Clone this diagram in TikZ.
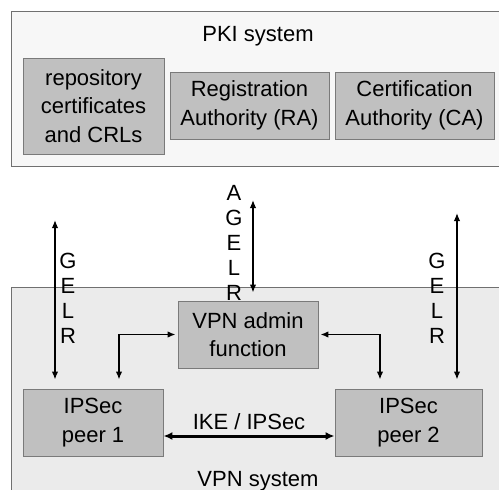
\documentclass[tikz,border=0pt]{standalone}
\usepackage{fontspec}
\setmainfont{Liberation Sans}
\usetikzlibrary{arrows.meta}
\definecolor{pkibg}{HTML}{F7F7F7}
\definecolor{vpnbg}{HTML}{EBEBEB}
\definecolor{boxbg}{HTML}{C0C0C0}
\definecolor{boxln}{HTML}{7A7A7A}
\definecolor{outln}{HTML}{707070}
\tikzset{
  outerbox/.style={draw=outln, line width=1pt},
  innerbox/.style={draw=boxln, fill=boxbg, line width=0.9pt, align=center,
    font=\fontsize{22}{28.5}\selectfont, inner sep=0pt},
  lbl/.style={font=\fontsize{22}{25}\selectfont, align=center, inner sep=0pt},
  conn/.style={line width=1.5pt, {Latex[length=8pt,width=6.5pt]}-{Latex[length=8pt,width=6.5pt]}},
  thickconn/.style={line width=3pt, {Latex[length=9pt,width=8pt]}-{Latex[length=9pt,width=8pt]}}
}
\begin{document}
\begin{tikzpicture}[x=1pt,y=-1pt]
\useasboundingbox (0,0) rectangle (499,490);
\clip (0,0) rectangle (499,490);
% outer systems
\path[outerbox, fill=pkibg] (11,11) rectangle (520,166);
\path[outerbox, fill=vpnbg] (11,287) rectangle (520,510);
\node[lbl] (pkilbl) at (258,36) {PKI system};
\node[lbl] (vpnlbl) at (258,481) {VPN system};
% PKI boxes
\node[innerbox, minimum width=141pt, minimum height=96pt] (repo) at (93.5,106) {repository\\certificates\\and CRLs};
\node[innerbox, minimum width=159pt, minimum height=67pt] (ra) at (249.5,105.5) {Registration\\Authority (RA)};
\node[innerbox, minimum width=159pt, minimum height=67pt] (ca) at (414.5,105.5) {Certification\\Authority (CA)};
% VPN boxes
\node[innerbox, minimum width=140pt, minimum height=67pt] (admin) at (248,334.5) {VPN admin\\function};
\node[innerbox, minimum width=140pt, minimum height=67pt] (peer1) at (93,422.5) {IPSec\\peer 1};
\node[innerbox, minimum width=147pt, minimum height=67pt] (peer2) at (408.5,422.5) {IPSec\\peer 2};
% vertical GELR arrows
\coordinate (ltop) at (55,220);
\coordinate (mtop) at (253,200);
\coordinate (rtop) at (457,213);
\draw[conn, shorten >=9pt] (ltop) -- (ltop |- peer1.north);
\draw[conn, shorten >=8pt] (mtop) -- (mtop |- admin.north);
\draw[conn, shorten >=9pt] (rtop) -- (rtop |- peer2.north);
\node[lbl] (lgelr) at (68,298.5) {G\\E\\L\\R};
\node[lbl] (mgelr) at (234,242.5) {A\\G\\E\\L\\R};
\node[lbl] (rgelr) at (437,298.5) {G\\E\\L\\R};
% admin to peers
\draw[conn, shorten <=2pt, shorten >=9pt] (admin.west) -| ([xshift=26pt]peer1.north);
\draw[conn, shorten <=2pt, shorten >=9pt] (admin.east) -| ([xshift=-28.5pt]peer2.north);
% IKE / IPSec
\draw[thickconn] ([yshift=-13.5pt]peer1.east) -- ([yshift=-13.5pt]peer2.west);
\node[lbl] (ike) at (249,422) {IKE / IPSec};
\end{tikzpicture}
\end{document}
